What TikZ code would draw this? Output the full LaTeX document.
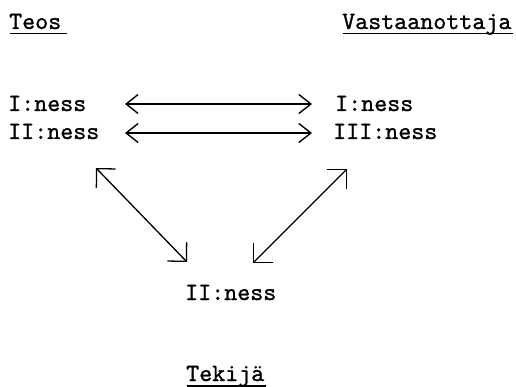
\documentclass[tikz,border=0pt]{standalone}
\usepackage{fontspec}
\newfontfamily\tw{lmmono10-regular.otf}[FakeBold=1]
\usetikzlibrary{arrows.meta}
\tikzset{
  lbl/.style={anchor=base west, inner sep=0pt, font=\tw\fontsize{24.8}{28}\selectfont},
  ul/.style={line width=1.3pt},
  harrow/.style={line width=1.4pt, {Straight Barb[length=12pt,width=19pt,line width=1.4pt]}-{Straight Barb[length=12pt,width=19pt,line width=1.4pt]}},
  darrow/.style={line width=1.3pt, {Straight Barb[length=13.5pt,width=27pt,line width=1.3pt]}-{Straight Barb[length=13.5pt,width=27pt,line width=1.3pt]}}
}
\begin{document}
\begin{tikzpicture}[x=1pt,y=-1pt]
\useasboundingbox (0,0) rectangle (516,387);
% headings
\node[lbl] (teos) at (9,29) {Teos};
\node[lbl] (vast) at (342,29) {Vastaanottaja};
\node[lbl] (tekija) at (186,381) {Tekijä};
\draw[ul] (teos.base west) ++(1,4.5) coordinate (t1) -- ++(57,0) coordinate (t2);
\draw[ul] (vast.base west) ++(1,4.5) coordinate (v1) -- ++(170,0) coordinate (v2);
\draw[ul] (tekija.base west) ++(1,5) coordinate (k1) -- ++(79,0) coordinate (k2);
% left texts
\node[lbl] (l1) at (8,111) {I:ness};
\node[lbl] (l2) at (8,139) {II:ness};
% right texts
\node[lbl] (r1) at (335,111) {I:ness};
\node[lbl] (r2) at (333,139) {III:ness};
% bottom
\node[lbl] (b) at (185,300) {II:ness};
% arrow end points
\coordinate (a1l) at (125,104);
\coordinate (a1r) at (312,104);
\coordinate (a2l) at (125,133);
\coordinate (a2r) at (312,133);
\coordinate (d1a) at (96,168);
\coordinate (d1b) at (187,262);
\coordinate (d2a) at (347,169);
\coordinate (d2b) at (253,263);
\draw[harrow] (a1l) -- (a1r);
\draw[harrow] (a2l) -- (a2r);
\draw[darrow] (d1a) -- (d1b);
\draw[darrow] (d2a) -- (d2b);
\end{tikzpicture}
\end{document}
